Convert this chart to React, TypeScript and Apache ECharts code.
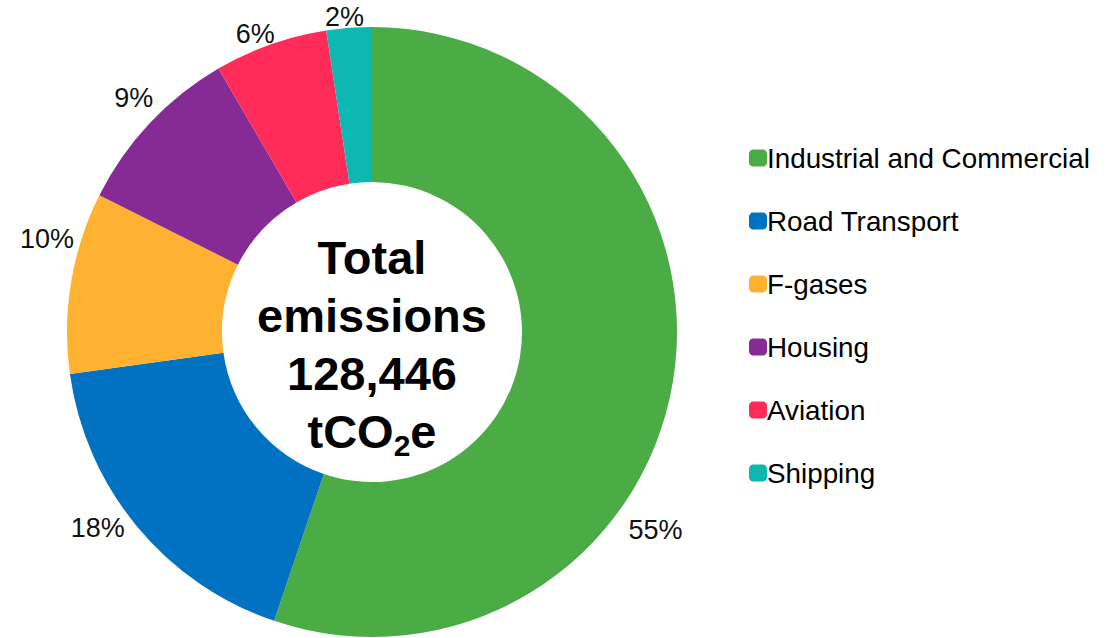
import React, { useEffect, useRef } from "react";
import * as echarts from "echarts";

const categories = [
  "Industrial and Commercial",
  "Road Transport",
  "F-gases",
  "Housing",
  "Aviation",
  "Shipping",
];
const values = [70902, 22606, 12331, 11817, 7707, 3083];
const colors = ["#4BAC45", "#0072C1", "#FFB232", "#862B95", "#FF2C5A", "#0CB8B1"];
const centerLines = ["Total", "emissions", "128,446"];

// label placement (angle clockwise from 12 o'clock, distance from centre)
const labelAngles = [125, 234.5, 286, 314.5, 338.6, 355];
const labelRadii = [346, 337, 338, 334, 320, 316];

const CX = 372;
const CY = 332;
const R_OUT = 305;
const R_IN = 150;
const FONT = "'Liberation Sans', Arial, sans-serif";

export default function App() {
  const ref = useRef<HTMLDivElement>(null);
  useEffect(() => {
    document.body.style.margin = "0";
    if (!ref.current) return;
    const chart = echarts.init(ref.current, null, { renderer: "svg" });

    chart.setOption({
      animation: false,
      legend: {
        orient: "vertical",
        left: 744,
        top: 139,
        itemWidth: 18,
        itemHeight: 17,
        itemGap: 35,
        icon: "roundRect",
        textStyle: { fontFamily: FONT, fontSize: 27.8, color: "#000", padding: [0, 0, 0, -5] },
        data: categories,
      },
      graphic: [
        {
          type: "text",
          x: CX,
          y: 344,
          style: {
            text:
              centerLines.map((l) => `{a|${l}}`).join("\n") + "\n{a|tCO}{s|2}{a|e}",
            align: "center",
            verticalAlign: "middle",
            rich: {
              a: { fontFamily: FONT, fontSize: 47, fontWeight: "bold", lineHeight: 58, fill: "#000" },
              s: {
                fontFamily: FONT,
                fontSize: 30,
                fontWeight: "bold",
                lineHeight: 30,
                verticalAlign: "bottom",
                fill: "#000",
              },
            },
          },
          z: 10,
        },
      ],
      series: [
        {
          type: "pie",
          center: [CX, CY],
          radius: [R_IN, R_OUT],
          startAngle: 90,
          clockwise: true,
          avoidLabelOverlap: false,
          label: {
            show: true,
            position: "outside",
            formatter: "{d}%",
            fontFamily: FONT,
            fontSize: 27,
            color: "#111",
          },
          percentPrecision: 0,
          labelLine: { show: false },
          labelLayout: (p: any) => {
            const i = p.dataIndex;
            const ang = (labelAngles[i] * Math.PI) / 180;
            const r = labelRadii[i];
            return {
              x: CX + r * Math.sin(ang),
              y: CY - r * Math.cos(ang),
              align: "center",
              verticalAlign: "middle",
            };
          },
          itemStyle: { borderWidth: 0 },
          emphasis: { disabled: true },
          data: categories.map((name, i) => ({
            name,
            value: values[i],
            itemStyle: { color: colors[i] },
          })),
        },
      ],
    });
    return () => chart.dispose();
  }, []);
  return <div ref={ref} style={{ width: 1111, height: 638 }} />;
}
